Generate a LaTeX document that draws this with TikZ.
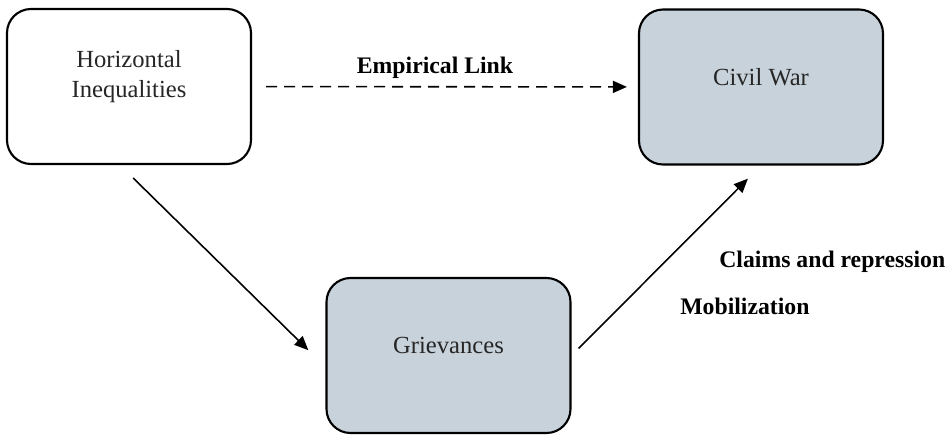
\documentclass[tikz,border=0pt]{standalone}
\usepackage{fontspec}
\setmainfont{Liberation Serif}
\usetikzlibrary{arrows.meta}
\definecolor{boxgray}{RGB}{200,210,218}

\begin{document}
\begin{tikzpicture}[
	box/.style = {draw, line width=1.2pt, rounded corners=0.48cm, minimum width=4.88cm, minimum height=3.1cm},
	boxtext/.style = {yshift=0.2cm, align=center, text=black!85, font=\fontsize{14}{17}\selectfont},
	linklabel/.style = {inner sep=0pt, font=\fontsize{13.5}{16}\selectfont\bfseries},
	link/.style = {-{Triangle[length=0.28cm, width=0.24cm]}, line width=0.9pt}
	]
	\useasboundingbox (0,0) rectangle (18.98,-8.68);
	
	% Boxes
	\node[box, fill=white, label={[boxtext]center:{Horizontal\\Inequalities}}] (hineq) at (2.58,-1.73) {};
	\node[box, fill=boxgray, label={[boxtext]center:{Civil War}}] (civil) at (15.22,-1.74) {};
	\node[box, fill=boxgray, label={[boxtext]center:{Grievances}}] (griev) at (8.97,-7.11) {};
	
	% Links between the boxes
	\draw[link, dash pattern=on 0.22cm off 0.14cm, shorten <=0.28cm, shorten >=0.22cm] (hineq) -- (civil);
	\draw[link, shorten <=0.37cm, shorten >=0.48cm] ([xshift=-0.18cm]hineq.south) -- ([yshift=-0.23cm]griev.west);
	\draw[link, shorten <=0.2cm, shorten >=0.37cm] (griev.east) -- (civil.south);
	
	% Link labels
	\node[linklabel, anchor=base] (emplabel) at (8.70,-1.46) {Empirical Link};
	\node[linklabel, anchor=base west] (claims) at (14.38,-5.34) {Claims and repression};
	\node[linklabel, anchor=base west] (mobil) at (13.60,-6.28) {Mobilization};
	
\end{tikzpicture}
\end{document}
